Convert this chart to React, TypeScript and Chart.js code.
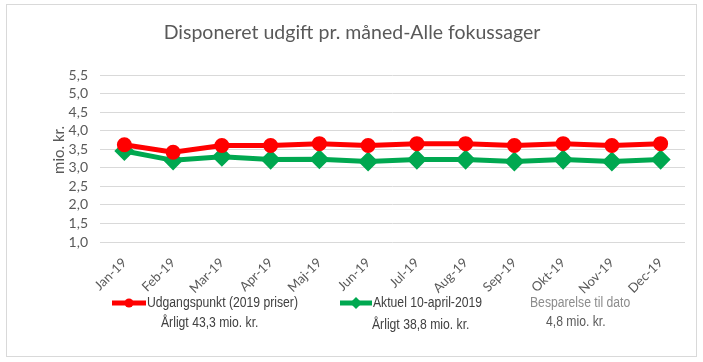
import React, { useEffect, useRef } from "react";
import { Chart, registerables } from "chart.js";

Chart.register(...registerables);

const months = ["Jan-19", "Feb-19", "Mar-19", "Apr-19", "Maj-19", "Jun-19", "Jul-19", "Aug-19", "Sep-19", "Okt-19", "Nov-19", "Dec-19"];
const udgangspunkt = [3.62, 3.42, 3.6, 3.6, 3.65, 3.6, 3.65, 3.65, 3.6, 3.65, 3.6, 3.65];
const aktuel = [3.45, 3.2, 3.3, 3.22, 3.23, 3.17, 3.22, 3.22, 3.17, 3.22, 3.17, 3.22];
const titleText = "Disponeret udgift pr. måned-Alle fokussager";
const yAxisTitle = "mio. kr.";
const legend1 = "Udgangspunkt (2019 priser)";
const legend1Sub = "Årligt 43,3 mio. kr.";
const legend2 = "Aktuel 10-april-2019";
const legend2Sub = "Årligt 38,8 mio. kr.";
const savingLabel = "Besparelse til dato";
const savingValue = "4,8 mio. kr.";

const RED = "#FF0000";
const GREEN = "#00A850";
const SANS = "'Liberation Sans', Arial, sans-serif";

function narrowText(ctx: CanvasRenderingContext2D, text: string, x: number, y: number) {
  ctx.save();
  ctx.translate(x, y);
  ctx.scale(0.87, 1);
  ctx.fillText(text, 0, 0);
  ctx.restore();
}

const overlayPlugin = {
  id: "overlay",
  afterDraw(chart: any) {
    const ctx = chart.ctx as CanvasRenderingContext2D;
    ctx.save();
    // title
    ctx.fillStyle = "#595959";
    ctx.font = "19.5px Lato, sans-serif";
    ctx.textAlign = "center";
    ctx.textBaseline = "middle";
    ctx.fillText(titleText, 352, 33);
    // y title
    ctx.save();
    ctx.translate(59, 150);
    ctx.rotate(-Math.PI / 2);
    ctx.font = "15px Lato, sans-serif";
    ctx.fillText(yAxisTitle, 0, 0);
    ctx.restore();

    // legend 1
    ctx.strokeStyle = RED;
    ctx.lineWidth = 5;
    ctx.beginPath();
    ctx.moveTo(112, 303);
    ctx.lineTo(146, 303);
    ctx.stroke();
    ctx.fillStyle = RED;
    ctx.beginPath();
    ctx.arc(129, 303, 4.5, 0, Math.PI * 2);
    ctx.fill();

    // legend 2
    ctx.strokeStyle = GREEN;
    ctx.beginPath();
    ctx.moveTo(340, 303);
    ctx.lineTo(372, 303);
    ctx.stroke();
    ctx.fillStyle = GREEN;
    ctx.beginPath();
    ctx.moveTo(356, 297);
    ctx.lineTo(362, 303);
    ctx.lineTo(356, 309);
    ctx.lineTo(350, 303);
    ctx.closePath();
    ctx.fill();

    ctx.font = "14px " + SANS;
    ctx.textAlign = "left";
    ctx.fillStyle = "#404040";
    narrowText(ctx, legend1, 147, 303);
    narrowText(ctx, legend2, 373, 303);
    narrowText(ctx, legend1Sub, 161, 323);
    narrowText(ctx, legend2Sub, 372, 325);
    ctx.fillStyle = "#8c8c8c";
    narrowText(ctx, savingLabel, 530, 303);
    ctx.fillStyle = "#595959";
    narrowText(ctx, savingValue, 546, 322);
    ctx.restore();
  },
};

export default function App() {
  const ref = useRef<HTMLCanvasElement | null>(null);

  useEffect(() => {
    if (!ref.current) return;
    const chart = new Chart(ref.current, {
      type: "line",
      data: {
        labels: months,
        datasets: [
          {
            label: legend1,
            data: udgangspunkt,
            borderColor: RED,
            backgroundColor: RED,
            borderWidth: 5,
            pointStyle: "circle",
            pointRadius: 5,
            pointHoverRadius: 5,
            tension: 0,
          },
          {
            label: legend2,
            data: aktuel,
            borderColor: GREEN,
            backgroundColor: GREEN,
            borderWidth: 5,
            pointStyle: "rectRot",
            pointRadius: 6.5,
            pointHoverRadius: 6.5,
            tension: 0,
          },
        ],
      },
      options: {
        animation: false,
        responsive: false,
        maintainAspectRatio: false,
        layout: { padding: { left: 0, right: 18, top: 75, bottom: 60 } },
        plugins: { legend: { display: false }, title: { display: false }, tooltip: { enabled: false } },
        scales: {
          x: {
            offset: true,
            grid: { display: false, drawTicks: false },
            border: { display: false },
            afterFit: (s: any) => {
              s.height = 60;
            },
            ticks: {
              minRotation: 45,
              maxRotation: 45,
              autoSkip: false,
              padding: 13,
              color: "#595959",
              font: { family: "Lato, sans-serif", size: 13 },
            },
          },
          y: {
            min: 1,
            max: 5.5,
            grid: { color: "#d9d9d9", lineWidth: 1, drawTicks: false },
            border: { display: false },
            afterFit: (s: any) => {
              s.width = 100;
            },
            ticks: {
              stepSize: 0.5,
              autoSkip: false,
              padding: 12,
              color: "#595959",
              font: { family: "Lato, sans-serif", size: 14 },
              callback: (v: any) => Number(v).toFixed(1).replace(".", ","),
            },
          },
        },
      },
      plugins: [overlayPlugin],
    });
    return () => chart.destroy();
  }, []);

  return (
    <div style={{ position: "fixed", left: 0, top: 0, width: 703, height: 362, background: "#fff" }}>
      <div
        style={{
          position: "absolute",
          left: 6,
          top: 4,
          width: 691,
          height: 353,
          border: "1px solid #d9d9d9",
          boxSizing: "border-box",
        }}
      />
      <canvas ref={ref} width={703} height={362} style={{ position: "absolute", left: 0, top: 0, width: 703, height: 362 }} />
    </div>
  );
}
